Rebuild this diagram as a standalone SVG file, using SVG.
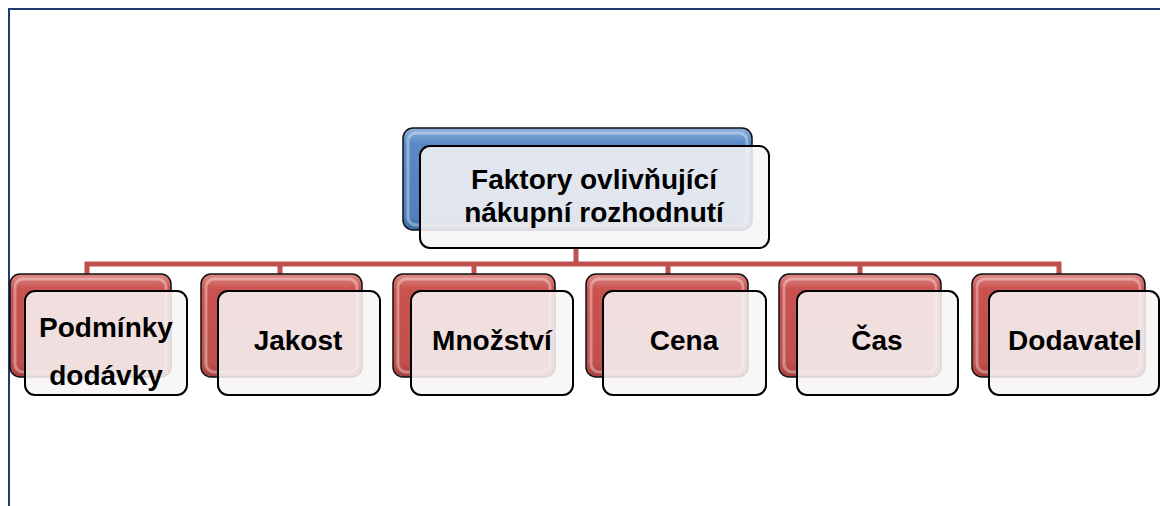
<svg xmlns="http://www.w3.org/2000/svg" width="1160" height="506" viewBox="0 0 1160 506">
<defs>
<linearGradient id="gRed" x1="0" y1="0" x2="0" y2="1">
<stop offset="0" stop-color="#e08a88"/>
<stop offset="0.15" stop-color="#c9524f"/>
<stop offset="0.85" stop-color="#c0504d"/>
<stop offset="1" stop-color="#a9403d"/>
</linearGradient>
<linearGradient id="gBlue" x1="0" y1="0" x2="0" y2="1">
<stop offset="0" stop-color="#8fb2de"/>
<stop offset="0.15" stop-color="#5a8ac6"/>
<stop offset="0.85" stop-color="#4f81bd"/>
<stop offset="1" stop-color="#3d6aa3"/>
</linearGradient>
<style>
.border{fill:none;stroke:#1f3a6e;stroke-width:2}
.conn{fill:none;stroke:#c0504d;stroke-width:5}
.backR{fill:url(#gRed);stroke:#111;stroke-width:1.5}
.backB{fill:url(#gBlue);stroke:#111;stroke-width:1.5}
.hl{fill:none;stroke:#ffffff;stroke-opacity:0.35;stroke-width:3}
.front{fill:#f7f5f5;fill-opacity:0.87;stroke:#000;stroke-width:2}
.t{font-family:"Liberation Sans",Arial,sans-serif;font-weight:bold;font-size:28px;fill:#000;text-anchor:middle}
</style>
</defs>
<rect width="1160" height="506" fill="#ffffff"/>
<path class="border" d="M9,506 V9 H1160"/>
<g id="connectors">
<path class="conn" d="M576,248 V264"/>
<path class="conn" d="M87,276 V264 H1059 V276"/>
<path class="conn" d="M280,264 V276"/>
<path class="conn" d="M474,264 V276"/>
<path class="conn" d="M668,264 V276"/>
<path class="conn" d="M860,264 V276"/>
</g>
<g id="root">
<rect class="backB" x="403" y="128" width="349" height="102" rx="10"/>
<rect class="hl" x="408" y="133" width="339" height="92" rx="8"/>
<rect class="front" x="420" y="146" width="349" height="102" rx="10"/>
<text class="t" x="594" y="189">Faktory ovlivňující</text>
<text class="t" x="594" y="222">nákupní rozhodnutí</text>
</g>
<g id="n1">
<rect class="backR" x="10" y="274" width="161" height="103" rx="10"/>
<rect class="hl" x="15" y="279" width="151" height="93" rx="8"/>
<rect class="front" x="25" y="291" width="162" height="104" rx="10"/>
<text class="t" x="106" y="337">Podmínky</text>
<text class="t" x="106" y="385">dodávky</text>
</g>
<g id="n2">
<rect class="backR" x="201" y="274" width="161" height="103" rx="10"/>
<rect class="hl" x="206" y="279" width="151" height="93" rx="8"/>
<rect class="front" x="218" y="291" width="162" height="104" rx="10"/>
<text class="t" x="298" y="350">Jakost</text>
</g>
<g id="n3">
<rect class="backR" x="393" y="274" width="162" height="103" rx="10"/>
<rect class="hl" x="398" y="279" width="152" height="93" rx="8"/>
<rect class="front" x="411" y="291" width="162" height="104" rx="10"/>
<text class="t" x="492" y="350">Množství</text>
</g>
<g id="n4">
<rect class="backR" x="586" y="274" width="162" height="103" rx="10"/>
<rect class="hl" x="591" y="279" width="152" height="93" rx="8"/>
<rect class="front" x="603" y="291" width="163" height="104" rx="10"/>
<text class="t" x="684" y="350">Cena</text>
</g>
<g id="n5">
<rect class="backR" x="779" y="274" width="162" height="103" rx="10"/>
<rect class="hl" x="784" y="279" width="152" height="93" rx="8"/>
<rect class="front" x="797" y="291" width="161" height="104" rx="10"/>
<text class="t" x="877" y="350">Čas</text>
</g>
<g id="n6">
<rect class="backR" x="972" y="274" width="173" height="103" rx="10"/>
<rect class="hl" x="977" y="279" width="163" height="93" rx="8"/>
<rect class="front" x="989" y="291" width="170" height="104" rx="10"/>
<text class="t" x="1075" y="350">Dodavatel</text>
</g>
</svg>
